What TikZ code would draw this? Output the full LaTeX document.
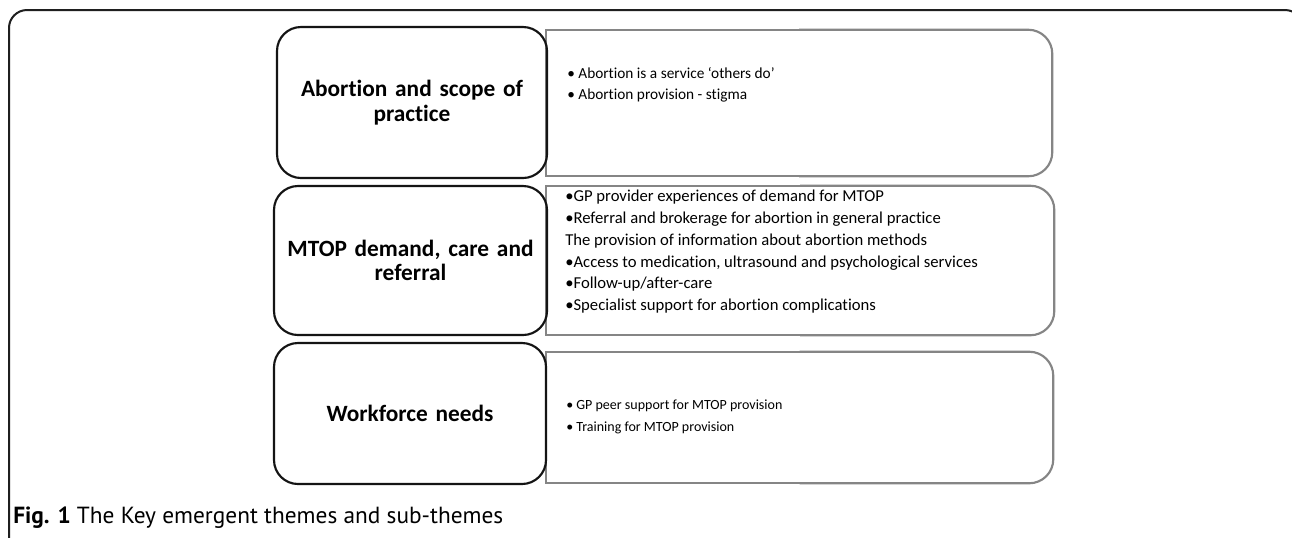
\documentclass[tikz,border=0pt]{standalone}
\usepackage{fontspec}
\setmainfont{Carlito}[Ligatures=NoCommon]
\newfontfamily\capfont{PT Sans}
\begin{document}
\begin{tikzpicture}[x=0.75pt, y=-0.75pt,
    frame/.style={draw=black!88, line width=1.5pt, rounded corners=13.5pt},
    theme/.style={draw=black!92, line width=1.6pt, rounded corners=18pt, inner sep=0pt,
      text width=190pt, align=center, font=\fontsize{17.5}{18.5}\selectfont\bfseries},
    sub/.style={draw=none, inner sep=0pt},
    subline/.style={draw=black!48, line width=1.6pt},
    subtext/.style={anchor=north west, inner sep=0pt, align=left,
      font=\fontsize{11.5}{15.75}\selectfont}]
  \useasboundingbox (0,0) rectangle (1292,537);
  \clip (0,0) rectangle (1292,537);
  \fill[white] (0,0) rectangle (1292,537);
  \draw[frame] (9,10) rectangle (1303,600);

  % sub-theme boxes, square on the left
  \node[sub, minimum width=379.5pt, minimum height=109.5pt] (sub1) at (799,103) {};
  \node[sub, minimum width=381pt, minimum height=111.75pt] (sub2) at (800,260.5) {};
  \node[sub, minimum width=380.25pt, minimum height=98.25pt] (sub3) at (799.5,417.5) {};
  \foreach \s in {sub1,sub2,sub3} {
    \draw[subline, rounded corners=18pt] (\s.north) -| (\s.east) |- (\s.south);
    \draw[subline] (\s.south) -| (\s.west) |- (\s.north);
  }

  % themes
  \node[theme, minimum width=202.5pt, minimum height=113.25pt] (abortion) at (412,102.5)
    {Abortion and scope of\\practice};
  \node[theme, minimum width=204.75pt, minimum height=111.75pt] (mtop) at (410.5,260.5)
    {MTOP demand, care and\\referral};
  \node[theme, minimum width=204pt, minimum height=105.75pt] (workforce) at (410,413.5)
    {Workforce needs};

  \node[subtext] (abortiontext) at (567,67)
    {\textbullet\ Abortion is a service ‘others do’\\
     \textbullet\ Abortion provision - stigma};
  \node[subtext, font=\fontsize{12.5}{16.3}\selectfont] (mtoptext) at (565,190)
    {\textbullet GP provider experiences of demand for MTOP\\
     \textbullet Referral and brokerage for abortion in general practice\\
     The provision of information about abortion methods\\
     \textbullet Access to medication, ultrasound and psychological services\\
     \textbullet Follow-up/after-care\\
     \textbullet Specialist support for abortion complications};
  \node[subtext, font=\fontsize{10.5}{16.5}\selectfont] (workforcetext) at (566,400)
    {\textbullet\ GP peer support for MTOP provision\\
     \textbullet\ Training for MTOP provision};

  \node[anchor=west, inner sep=0pt, font=\capfont\fontsize{17.5}{19}\selectfont] (caption) at (13,518)
    {\textbf{Fig. 1} The Key emergent themes and sub-themes};
\end{tikzpicture}
\end{document}
